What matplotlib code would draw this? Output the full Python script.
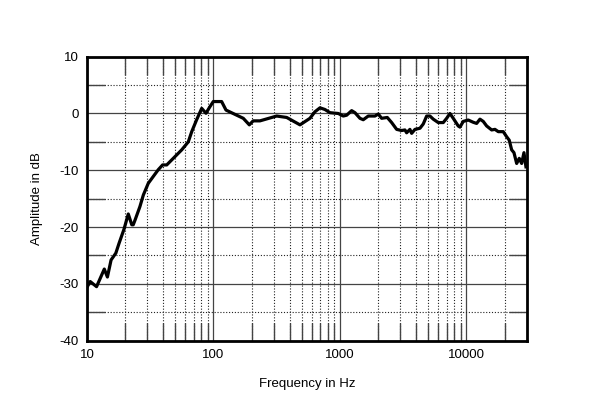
import matplotlib
matplotlib.use("Agg")
import matplotlib.pyplot as plt
from matplotlib.ticker import FixedLocator, NullFormatter

freq_hz = [10, 10.6, 11.9, 13.7, 14.5, 15.5, 16.9, 17.9, 19.6, 21.2, 22.6, 23.2, 24.0, 26.2, 27.9,
           30.5, 33.4, 36.6, 39.6, 42.7, 48.1, 56.1, 63.2, 67.3, 73.6, 80.7, 87.2,
           93.8, 99.6, 116, 125.6, 143, 172, 192, 206, 233, 316, 379, 483,
           579, 634, 695, 761, 834, 970, 1062, 1130, 1237, 1314, 1439, 1528, 1674,
           1891, 2008, 2136, 2366, 2563, 2807, 3074, 3264, 3365, 3573, 3688, 3917,
           4290, 4555, 4846, 5146, 5465, 5985, 6554, 6973, 7406, 7863, 8610, 8886,
           9434, 10332, 11318, 12036, 12787, 13577, 14443, 15822, 16803, 17844,
           19541, 20788, 21790, 22767, 23746, 24946, 26150, 27318, 28484, 29541]
amp_db = [-30.6, -29.6, -30.5, -27.4, -28.8, -25.8, -24.6, -22.9, -20.4, -17.7, -19.6, -19.6, -18.75, -16.4, -14.35,
          -12.3, -11.1, -9.9, -9.06, -9.06, -7.9, -6.4, -5.0, -3.2, -1.1, 0.9, 0.04,
          1.2, 2.1, 2.1, 0.6, 0.0, -0.85, -2.0, -1.3, -1.3, -0.45, -0.7, -2.0,
          -0.85, 0.3, 1.0, 0.7, 0.14, 0.0, -0.45, -0.3, 0.5, 0.14, -0.85, -1.1, -0.45,
          -0.45, -0.1, -0.85, -0.7, -1.6, -2.8, -3.0, -2.9, -3.4, -2.8, -3.5, -2.8,
          -2.6, -1.85, -0.45, -0.45, -1.0, -1.6, -1.6, -0.85, 0.0, -0.85, -2.2, -2.4,
          -1.4, -1.15, -1.55, -1.75, -1.0, -1.4, -2.2, -2.9, -2.8, -3.2,
          -3.2, -4.1, -4.7, -6.4, -6.9, -8.8, -7.9, -8.8, -6.9, -9.4]

x_major = [10, 100, 1000, 10000]
x_major_labels = ["10", "100", "1000", "10000"]
y_major = [-40, -30, -20, -10, 0, 10]
y_minor = [-35, -25, -15, -5, 5]

plt.rcParams['font.family'] = ['Liberation Sans', 'DejaVu Sans']
plt.rcParams['axes.unicode_minus'] = False

fig = plt.figure(figsize=(6.0, 4.05), dpi=100)
ax = fig.add_axes([0.145, 0.159, 0.733, 0.701])

ax.set_xscale('log')
ax.set_xlim(10, 30000)
ax.set_ylim(-40, 10)

x_minor = [m * d for d in (10, 100, 1000, 10000) for m in range(2, 10) if m * d < 30000]
ax.xaxis.set_major_locator(FixedLocator(x_major))
ax.set_xticklabels(x_major_labels)
ax.xaxis.set_minor_locator(FixedLocator(x_minor))
ax.xaxis.set_minor_formatter(NullFormatter())
ax.yaxis.set_major_locator(FixedLocator(y_major))
ax.yaxis.set_minor_locator(FixedLocator(y_minor))

ax.grid(which='major', color='#444444', linewidth=0.9, linestyle='-')
ax.grid(which='minor', color='#222222', linewidth=0.8, linestyle=(0, (1, 1.6)))

ax.tick_params(which='both', direction='in', top=True, right=True, labelsize=9.5)
ax.tick_params(which='major', length=0, pad=6)
ax.tick_params(which='minor', length=13, width=1.0, color='#444444')

for s in ax.spines.values():
    s.set_linewidth(2.0)
    s.set_color('black')

ax.plot(freq_hz, amp_db, color='black', linewidth=2.3, solid_joinstyle='round', zorder=5)

ax.set_xlabel('Frequency in Hz', fontsize=9.5, labelpad=12)
ax.set_ylabel('Amplitude in dB', fontsize=9.5, labelpad=12)

fig.savefig('out.png', dpi=100)
